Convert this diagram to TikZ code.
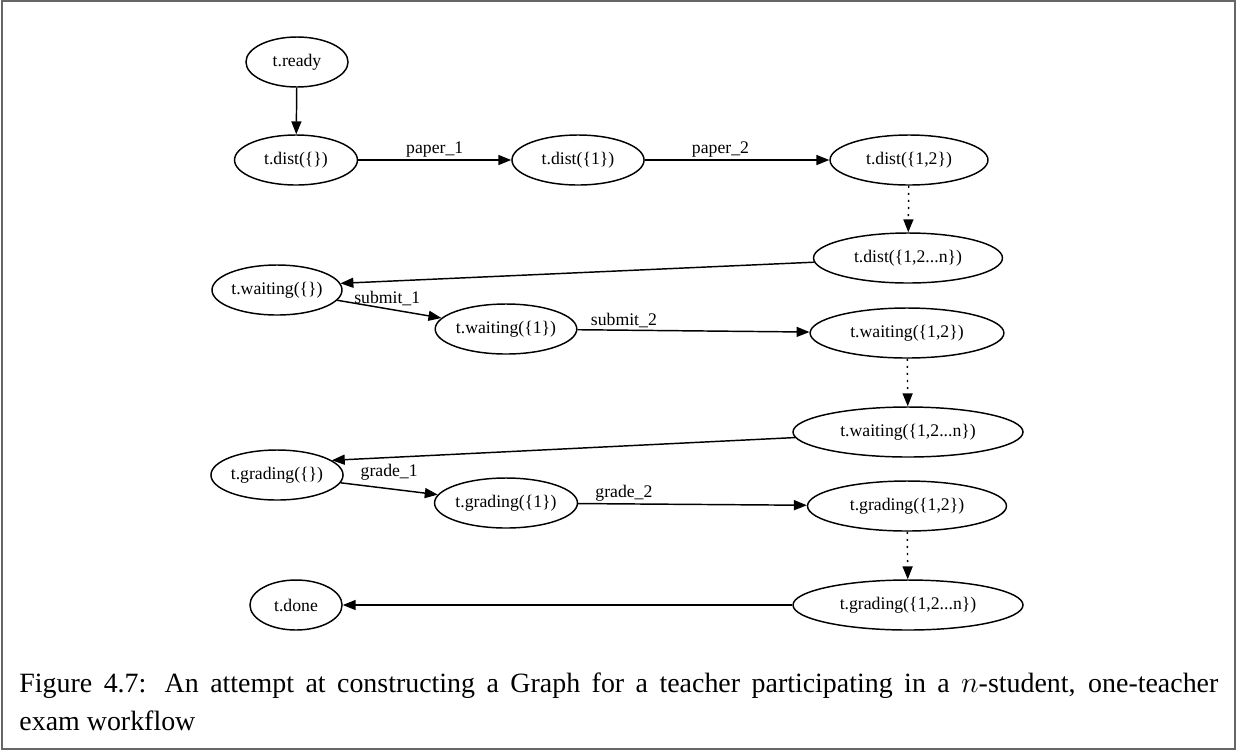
\documentclass[tikz,border=0pt]{standalone}
\usepackage{fontspec}
\setmainfont{Liberation Serif}
\usepackage{tikz}
\usetikzlibrary{arrows.meta,shapes.geometric}
\newcommand{\stateFont}{\fontsize{8.5}{10}\selectfont}
\tikzset{
    stateNode/.style={
        ellipse,
        draw,
        line width=0.7pt,
        inner xsep=0pt,
        inner ysep=1pt,
        minimum height=24pt,
        font=\stateFont
    },
    stateArrow/.style={
        -{Triangle[length=6.2pt,width=4.8pt]},
        line width=0.7pt
    },
    stateDotted/.style={
        -{Triangle[length=6.2pt,width=4.8pt]},
        line width=0.7pt,
        dash pattern=on 1pt off 2.4pt
    },
    edgeLabel/.style={
        font=\stateFont,
        inner sep=1pt
    }
}

\begin{document}
\begin{tikzpicture}[x=0.48pt,y=-0.48pt]
        \useasboundingbox (0,0) rectangle (1238,752);
        \draw[black!60,line width=1pt] (2,1) rectangle (1235,749);

        % distributing the papers
        \node[stateNode,minimum width=49pt] (ready) at (297,62) {t.ready};
        \node[stateNode,minimum width=59pt] (dist0) at (296,160) {t.dist(\{\})};
        \node[stateNode,minimum width=63.4pt] (dist1) at (578,160) {t.dist(\{1\})};
        \node[stateNode,minimum width=75.8pt] (dist2) at (909,160) {t.dist(\{1,2\})};
        \node[stateNode,minimum width=90.7pt] (distn) at (908,258) {t.dist(\{1,2...n\})};

        % waiting for submissions
        \node[stateNode,minimum width=62.4pt] (wait0) at (277,290) {t.waiting(\{\})};
        \node[stateNode,minimum width=67.2pt] (wait1) at (506,329) {t.waiting(\{1\})};
        \node[stateNode,minimum width=93pt] (wait2) at (907,333) {t.waiting(\{1,2\})};
        \node[stateNode,minimum width=110.4pt] (waitn) at (908,432) {t.waiting(\{1,2...n\})};

        % grading
        \node[stateNode,minimum width=63.4pt] (grad0) at (277,475) {t.grading(\{\})};
        \node[stateNode,minimum width=68.2pt] (grad1) at (506,503) {t.grading(\{1\})};
        \node[stateNode,minimum width=95.5pt] (grad2) at (907,506) {t.grading(\{1,2\})};
        \node[stateNode,minimum width=110.4pt] (gradn) at (908,605) {t.grading(\{1,2...n\})};
        \node[stateNode,minimum width=44.2pt] (done) at (296,605) {t.done};

        \draw[stateArrow] (ready) -- (dist0);
        \draw[stateArrow] (dist0) -- node[edgeLabel,above] {paper\_1} (dist1);
        \draw[stateArrow] (dist1) -- node[edgeLabel,above,pos=0.41] {paper\_2} (dist2);
        \draw[stateDotted] (dist2) -- (distn);
        \draw[stateArrow] (distn) -- (wait0.6);

        \draw[stateArrow] (wait0) -- node[edgeLabel,above,pos=0.48] {submit\_1} (wait1);
        \draw[stateArrow] (wait1) -- node[edgeLabel,above,pos=0.2] {submit\_2} (wait2);
        \draw[stateDotted] (wait2) -- (waitn);
        \draw[stateArrow] (waitn) -- (grad0.15);

        \draw[stateArrow] (grad0) -- node[edgeLabel,above=2.5pt] {grade\_1} (grad1);
        \draw[stateArrow] (grad1) -- node[edgeLabel,above,pos=0.2] {grade\_2} (grad2);
        \draw[stateDotted] (grad2) -- (gradn);
        \draw[stateArrow] (gradn) -- (done);

        \node[anchor=base west,inner sep=0pt,text width=575.5pt,align=justify,
              font=\fontsize{13.4}{18.7}\selectfont] (caption) at (19,692)
            {Figure 4.7: An attempt at constructing a Graph for a teacher participating in a $n$-student, one-teacher\linebreak exam workflow};
    \end{tikzpicture}
\end{document}
